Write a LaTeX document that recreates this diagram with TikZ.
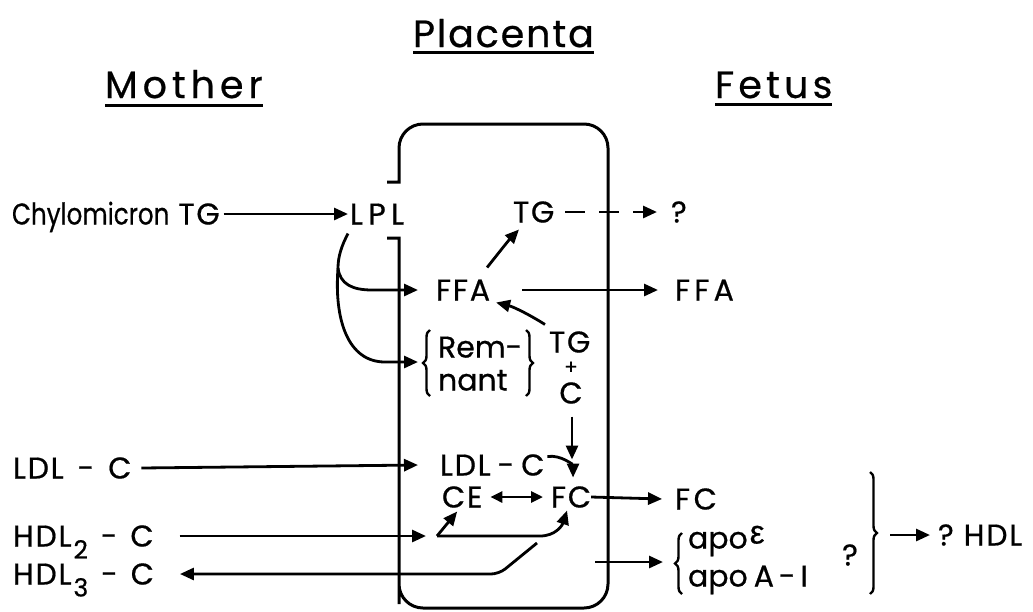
\documentclass[tikz,border=0pt]{standalone}
\usepackage{fontspec}
\setmainfont{Poppins}[FakeBold=0.6]
\newfontfamily\capf{Poppins}[LetterSpace=6,FakeBold=0.6]
\usetikzlibrary{arrows.meta,calc,decorations.pathreplacing}
\begin{document}
\begin{tikzpicture}[x=1pt,y=-1pt,
  lbl/.style={inner sep=0pt, outer sep=0pt, text height=21pt, text depth=0pt, anchor=west, font=\fontsize{30}{34}\selectfont},
  capl/.style={lbl, font=\fontsize{30}{34}\selectfont\capf},
  ttl/.style={inner sep=0pt, outer sep=0pt, anchor=base west, font=\fontsize{38}{40}\selectfont},
  uline/.style={line width=3pt},
  arr/.style={line width=2.8pt, -{Triangle[length=14pt,width=12pt]}},
  dbl/.style={line width=2.8pt, {Triangle[length=12pt,width=11pt]}-{Triangle[length=12pt,width=11pt]}},
  boxline/.style={line width=3pt},
  brc/.style={line width=2.4pt, decorate, decoration={brace, amplitude=7pt}}
]
\useasboundingbox (0,0) rectangle (1033,611);

% titles
\node[ttl] (placenta) at (413,47) {\addfontfeature{LetterSpace=5}Placenta};
\node[ttl] (mother) at (105,98) {\addfontfeature{LetterSpace=13}Mother};
\node[ttl] (fetus) at (715,98) {\addfontfeature{LetterSpace=11}Fetus};
\draw[uline] ($(placenta.base west)+(0,5)$) -- ($(placenta.base east)+(0,5)$);
\draw[uline] ($(mother.base west)+(0,7)$) -- ($(mother.base east)+(0,7)$);
\draw[uline] ($(fetus.base west)+(0,6)$) -- ($(fetus.base east)+(0,6)$);

% placenta box
\draw[boxline] (387,182) -- (399,182) -- (399,150)
  [rounded corners=24pt] -- (399,124) -- (608,124) -- (608,608) -- (399,608) -- (399,580)
  [sharp corners] -- (399,238) -- (387,238);

% labels
\node[lbl] (chylo) at (12,214) {\scalebox{0.82}[1]{Chylomicron}\hspace{9pt}{\capf TG}};
\node[capl] (lpl) at (350,214) {\addfontfeature{LetterSpace=18}LPL};
\node[capl] (tgu) at (513,212) {TG};
\node[lbl] (qu) at (671,212) {?};
\node[capl] (ffa) at (436,290) {FFA};
\node[lbl] (ffa2) at (675,290) {\addfontfeature{LetterSpace=14}FFA};
\node[lbl] (rem) at (438,347) {Rem-};
\node[lbl] (nant) at (438,380) {nant};
\node[capl] (tgl) at (549,342) {TG};
\node[inner sep=0pt, text height=10pt, text depth=0pt, font=\fontsize{20}{20}\selectfont] (plus) at (571,369) {+};
\node[capl, anchor=center] (cl) at (571,393) {C};
\node[capl] (ldlL) at (13,468) {LDL\hspace{14pt}-\hspace{14pt}C};
\node[capl] (ldl) at (440,465) {LDL\hspace{7pt}-\hspace{7pt}C};
\node[capl] (ce) at (442,497) {CE};
\node[capl] (fc) at (551,497) {FC};
\node[capl] (fc2) at (675,499) {\addfontfeature{LetterSpace=12}FC};
\node[capl] (hdl2) at (13,536) {HDL\hspace{2pt}\raisebox{-12pt}{\fontsize{25}{25}\selectfont 2}\hspace{13pt}-\hspace{13pt}C};
\node[capl] (hdl3) at (13,574) {HDL\hspace{2pt}\raisebox{-12pt}{\fontsize{25}{25}\selectfont 3}\hspace{13pt}-\hspace{13pt}C};
\node[lbl] (apoe) at (688,538) {apo\hspace{2pt}\raisebox{5pt}{\fontspec{Liberation Sans}[FakeBold=0.6]\fontsize{33}{33}\selectfont ε}};
\node[lbl] (apoa) at (688,576) {apo\hspace{6pt}A\hspace{5pt}-\hspace{5pt}I};
\node[lbl, anchor=center] (qs) at (850,555) {?};
\node[lbl] (hdl) at (938,535) {?\hspace{10pt}{\capf HDL}};

% braces
\draw[brc] (430,396) -- (430,330);
\draw[brc] (526,330) -- (526,396);
\draw[brc] (682,594) -- (682,533);
\draw[brc] (870,472) -- (870,594);

% connectors
\draw[arr] ($(chylo.east)+(4,0)$) -- ($(lpl.west)+(-2,0)$);
\coordinate (lplS) at ($(lpl.south west)+(-2,9)$);
\coordinate (br) at (338,268);
\draw[arr] (lplS) .. controls (342,245) and (338,256) .. (br)
  .. controls (340,284) and (352,290) .. (372,290) -- ($(ffa.west)+(-18,0)$);
\draw[arr] (br) .. controls (334,320) and (348,362) .. (385,362) -- ($(rem.west |- 0,362)+(-20,0)$);
\draw[arr] ($(ffa.east)+(32,0)$) -- ($(ffa2.west)+(-17,0)$);
\draw[arr] ($(ffa.north east)+(-3,-12)$) .. controls (497,255) and (508,241) .. ($(tgu.south west)+(6,7)$);
\draw[arr] ($(tgl.north west)+(-4,-7)$) .. controls (530,315) and (514,307) .. ($(ffa.south east)+(6,2)$);
\draw[dash pattern=on 20pt off 14pt, arr] ($(tgu.east)+(11,0)$) -- ($(qu.west)+(-14,0)$);
\draw[arr] ($(cl.south)+(1,13)$) -- ($(cl.south)+(1,56)$);
\draw[arr] ($(ldl.north east)+(3,2)$) .. controls +(14,-2) and +(0,-12) .. ($(fc.north)+(2,-9)$);
\draw[arr] ($(ldlL.east)+(10,0)$) -- ($(ldl.west)+(-22,0)$);
\draw[dbl] ($(ce.east)+(8,0)$) -- ($(fc.west)+(-8,0)$);
\draw[arr] (fc.east) -- ($(fc2.west)+(-13,0)$);
\coordinate (J) at (437,536);
\coordinate (K) at (540,536);
\draw[arr] ($(hdl2.east)+(26,0)$) -- ($(J)+(-11,0)$);
\draw[arr] (J) -- ($(ce.south)+(-5,4)$);
\draw[arr] (J) -- (K) .. controls (555,536) and (562,526) .. ($(fc.south)+(-4,3)$);
\coordinate (H3a) at (537,543);
\coordinate (H3b) at (499,574);
\draw[arr, rounded corners=8pt] (H3a) -- (H3b) -- ($(hdl3.east)+(26,0)$);
\coordinate (apoS) at (595,562);
\draw[arr] (apoS) -- ($(apoS -| apoe.west)+(-25,0)$);
\draw[arr] ($(hdl.west)+(-48,0)$) -- ($(hdl.west)+(-8,0)$);
\end{tikzpicture}
\end{document}
